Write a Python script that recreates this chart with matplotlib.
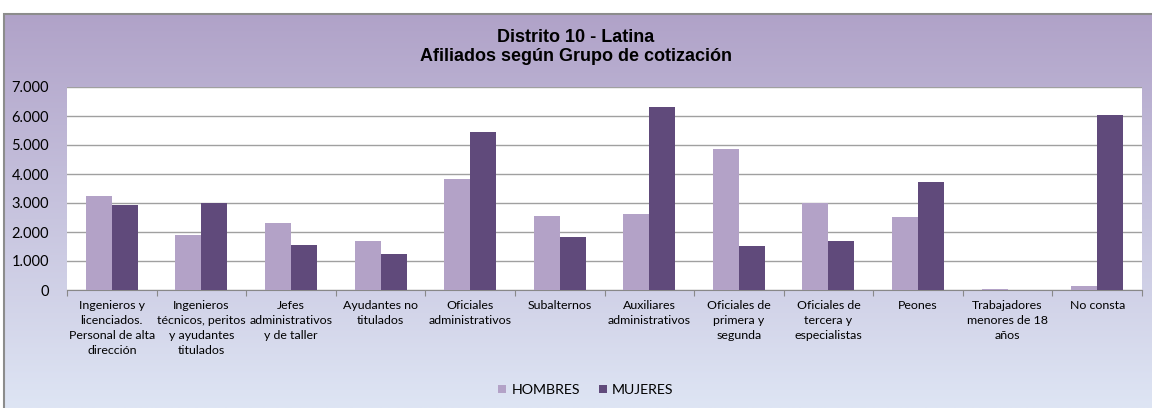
import numpy as np
import matplotlib.pyplot as plt
from matplotlib.patches import Rectangle
from matplotlib.ticker import FuncFormatter, MultipleLocator

categorias = [
    'Ingenieros y\nlicenciados.\nPersonal de alta\ndirección',
    'Ingenieros\ntécnicos, peritos\ny ayudantes\ntitulados',
    'Jefes\nadministrativos\ny de taller',
    'Ayudantes no\ntitulados',
    'Oficiales\nadministrativos',
    'Subalternos',
    'Auxiliares\nadministrativos',
    'Oficiales de\nprimera y\nsegunda',
    'Oficiales de\ntercera y\nespecialistas',
    'Peones',
    'Trabajadores\nmenores de 18\naños',
    'No consta',
]
hombres = [3230, 1910, 2320, 1700, 3830, 2560, 2630, 4870, 3000, 2530, 30, 150]
mujeres = [2920, 2990, 1540, 1250, 5450, 1820, 6310, 1520, 1690, 3710, 5, 6050]

c_h = '#b3a2c7'
c_m = '#604a7b'

W, H = 1152, 408
fig = plt.figure(figsize=(W / 100, H / 100), dpi=100)
fig.patch.set_facecolor('white')

# degradado del fondo del gráfico
bg = fig.add_axes([3 / W, 0, 1 - 3 / W, 1 - 13 / H])
top = np.array([176, 162, 200]) / 255
bot = np.array([222, 229, 244]) / 255
t = np.linspace(0, 1, 256)[:, None]
grad = top * (1 - t) + bot * t
bg.imshow(grad[:, None, :].repeat(2, axis=1), aspect='auto', extent=[0, 1, 0, 1])
bg.set_axis_off()
fig.add_artist(Rectangle((3.5 / W, -0.01), 1.0, 1 - 13.5 / H + 0.01, transform=fig.transFigure,
                         fill=False, edgecolor='#8c8c8c', linewidth=1.5))

# área de trazado
x0, x1, y0, y1 = 67, 1142, 87, 290
ax = fig.add_axes([x0 / W, 1 - y1 / H, (x1 - x0) / W, (y1 - y0) / H])
ax.set_facecolor('white')

x = np.arange(len(categorias))
bw = 0.29
ax.bar(x - bw / 2, hombres, bw, color=c_h, label='HOMBRES', zorder=3)
ax.bar(x + bw / 2, mujeres, bw, color=c_m, label='MUJERES', zorder=3)

ax.set_xlim(-0.5, len(categorias) - 0.5)
ax.set_ylim(0, 7000)
ax.yaxis.set_major_locator(MultipleLocator(1000))
ax.yaxis.set_major_formatter(FuncFormatter(lambda v, p: f'{int(v):,}'.replace(',', '.')))
ax.grid(axis='y', color='#a0a0a0', linewidth=1, zorder=0)

ax.set_xticks(np.arange(len(categorias) + 1) - 0.5, minor=False)
ax.set_xticklabels([])
ax.set_xticks(x, minor=True)
ax.set_xticklabels(categorias, minor=True, fontsize=8.9, family='Lato', linespacing=1.45)
ax.tick_params(axis='x', which='major', length=4, color='#888888')
ax.tick_params(axis='x', which='minor', length=0, pad=7)
ax.tick_params(axis='y', length=0, labelsize=10.5, pad=13)
for lab in ax.get_yticklabels():
    lab.set_family('Lato')

for s in ['top', 'right', 'left']:
    ax.spines[s].set_visible(False)
ax.spines['bottom'].set_color('#888888')

fig.text(0.5, 1 - 47 / H, 'Distrito 10 - Latina\nAfiliados según Grupo de cotización',
         ha='center', va='center', fontsize=13, fontweight='bold', family='Liberation Sans',
         linespacing=1.2)

fig.legend(loc='center', bbox_to_anchor=(586 / W, 1 - 390 / H), ncol=2, frameon=False,
           prop={'family': 'Lato', 'size': 10.2}, handlelength=0.55, handleheight=0.55,
           handletextpad=0.4, columnspacing=1.3)

fig.savefig('out.png', dpi=100)
